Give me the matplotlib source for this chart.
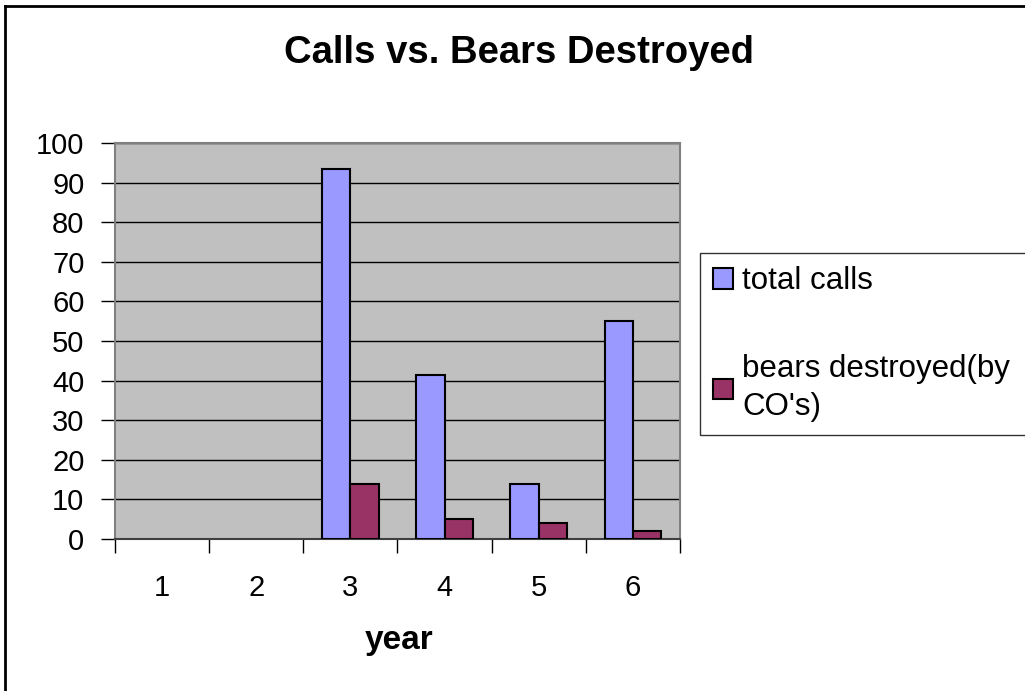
import matplotlib.pyplot as plt
from matplotlib.lines import Line2D
from matplotlib.patches import Patch

plt.rcParams['font.family'] = ['Liberation Sans', 'DejaVu Sans']

# Data
years = ['1', '2', '3', '4', '5', '6']
total_calls = [0, 0, 93.5, 41.5, 14, 55]
bears_destroyed = [0, 0, 14, 5, 4, 2]
series_labels = ['total calls', "bears destroyed(by\nCO's)"]
colors = ['#9999ff', '#993366']

fig = plt.figure(figsize=(10.25, 6.91), dpi=100)
ax = fig.add_axes([115 / 1025, 1 - 539 / 691, 565 / 1025, 396 / 691])
ax.set_facecolor('#c0c0c0')

x = list(range(len(years)))
w = 0.3
bars1 = ax.bar([i - w / 2 for i in x], total_calls, width=w, color=colors[0],
               edgecolor='black', linewidth=1.5, zorder=3)
bars2 = ax.bar([i + w / 2 for i in x], bears_destroyed, width=w, color=colors[1],
               edgecolor='black', linewidth=1.5, zorder=3)
# empty years show no bar outline
for b in list(bars1) + list(bars2):
    if b.get_height() == 0:
        b.set_visible(False)

ax.set_xlim(-0.5, len(years) - 0.5)
ax.set_ylim(0, 100)
ax.set_yticks(range(0, 101, 10))
ax.yaxis.grid(True, color='black', linewidth=1, zorder=1)
ax.set_axisbelow(True)

# category ticks between groups, labels at centres
ax.set_xticks([i - 0.5 for i in range(len(years) + 1)])
ax.set_xticklabels([])
ax.set_xticks(x, minor=True)
ax.set_xticklabels(years, minor=True)
ax.tick_params(axis='x', which='major', direction='out', length=10, width=1, color='black')
ax.tick_params(axis='x', which='minor', length=0, pad=25, labelsize=21)
ax.tick_params(axis='y', direction='out', length=10, width=1, labelsize=21, pad=12)

for side in ['left', 'right', 'top']:
    ax.spines[side].set_color('#808080')
    ax.spines[side].set_linewidth(1.5)
ax.spines['bottom'].set_color('#404040')
ax.spines['bottom'].set_linewidth(1.5)

fig.text(519 / 1025, 1 - 53 / 691, 'Calls vs. Bears Destroyed', ha='center', va='center',
         fontsize=27.5, fontweight='bold')
fig.text(399 / 1025, 1 - 641 / 691, 'year', ha='center', va='center',
         fontsize=24, fontweight='bold')

handles = [Patch(facecolor=c, edgecolor='black', linewidth=1.5) for c in colors]
leg = fig.legend(handles=handles, labels=series_labels, loc='upper left',
                 bbox_to_anchor=(700 / 1025, 1 - 254 / 691, 340 / 1025, 0.001),
                 mode='expand', fontsize=22.5,
                 frameon=True, fancybox=False, edgecolor='black', borderaxespad=0,
                 handlelength=0.62, handleheight=0.62, handletextpad=0.3,
                 labelspacing=1.85, borderpad=0.42)
leg.get_frame().set_linewidth(1)
for t in leg.get_texts():
    t.set_linespacing(1.35)

# outer chart border (left and top)
fig.add_artist(Line2D([5 / 1025, 5 / 1025], [0, 1 - 6 / 691], color='black', linewidth=2,
                      transform=fig.transFigure))
fig.add_artist(Line2D([5 / 1025, 1], [1 - 6 / 691, 1 - 6 / 691], color='black', linewidth=2,
                      transform=fig.transFigure))

fig.savefig('out.png', dpi=100)
